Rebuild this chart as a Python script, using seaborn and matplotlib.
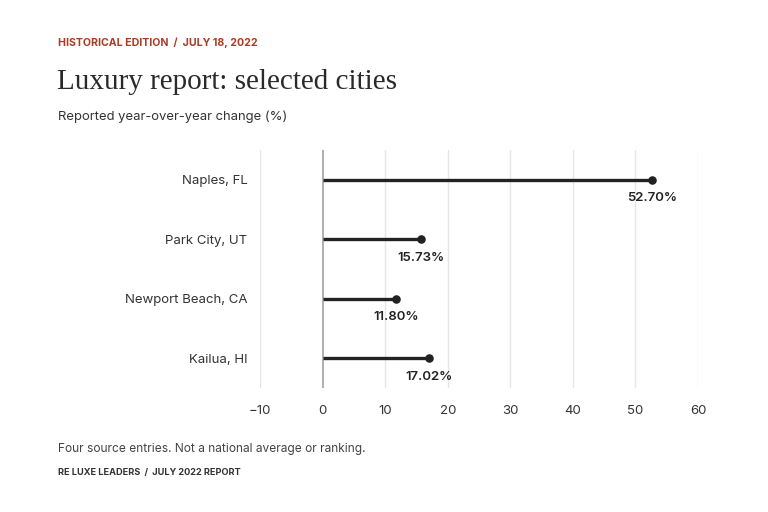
import matplotlib
matplotlib.use('Agg')
import matplotlib.pyplot as plt
import seaborn as sns
import pandas as pd

# ============================================================
# DATA
# ============================================================
cities = ['Naples, FL', 'Park City, UT', 'Newport Beach, CA', 'Kailua, HI']
changes = [52.70, 15.73, 11.80, 17.02]
x_ticks = [-10, 0, 10, 20, 30, 40, 50, 60]

df = pd.DataFrame({'city': cities, 'change': changes})
df['pos'] = range(len(df))

# ============================================================
# STYLE
# ============================================================
sns.set_theme(style='white')
plt.rcParams['font.family'] = ['Inter', 'DejaVu Sans']

RED = '#a93a23'
INK = '#222222'
GRAY = '#444444'

fig = plt.figure(figsize=(7.68, 5.12), dpi=100)
ax = fig.add_axes([260 / 768, 1 - 388 / 512, (698 - 260) / 768, (388 - 150) / 512])

# stems + dots
ax.hlines(df['pos'], 0, df['change'], color=INK, lw=2.4, zorder=3)
sns.scatterplot(data=df, x='change', y='pos', ax=ax, color=INK, s=38,
                edgecolor=INK, linewidth=0, zorder=4, legend=False)

for _, r in df.iterrows():
    ax.text(r['change'], r['pos'] + 0.21, f"{r['change']:.2f}%", ha='center', va='top',
            fontsize=9.5, fontweight='semibold', color=INK)

ax.set_xlim(-10, 60)
ax.set_ylim(len(df) - 0.5, -0.5)
ax.set_xticks(x_ticks)
ax.set_xticklabels([str(t).replace('-', '\u2212') for t in x_ticks])
ax.set_yticks(df['pos'])
ax.set_yticklabels(df['city'])
ax.set_xlabel('')
ax.set_ylabel('')

for t in x_ticks:
    if t != 0:
        ax.axvline(t, color='#e6e6e6', lw=1, zorder=1)
ax.axvline(0, color='#9a9a9a', lw=1.1, zorder=2)

for s in ax.spines.values():
    s.set_visible(False)
ax.tick_params(axis='both', length=0, labelsize=9.5, labelcolor='#333333')
ax.tick_params(axis='x', pad=12)
ax.tick_params(axis='y', pad=9)

# ============================================================
# TEXT
# ============================================================
fig.text(58 / 768, 1 - 43 / 512, 'HISTORICAL EDITION  /  JULY 18, 2022', color=RED,
         fontsize=7.6, fontweight='bold', va='center', ha='left')
fig.text(57 / 768, 1 - 82 / 512, 'Luxury report: selected cities', color='#2a2a2a',
         fontsize=21, family=['Liberation Serif', 'DejaVu Serif'], va='center', ha='left')
fig.text(58 / 768, 1 - 117 / 512, 'Reported year-over-year change (%)', color='#333333',
         fontsize=9.4, va='center', ha='left')
fig.text(58 / 768, 1 - 449 / 512, 'Four source entries. Not a national average or ranking.',
         color=GRAY, fontsize=8.6, va='center', ha='left')
fig.text(58 / 768, 1 - 472 / 512, 'RE LUXE LEADERS  /  JULY 2022 REPORT', color='#333333',
         fontsize=6.6, fontweight='bold', va='center', ha='left')

plt.savefig('out.png', dpi=100)
